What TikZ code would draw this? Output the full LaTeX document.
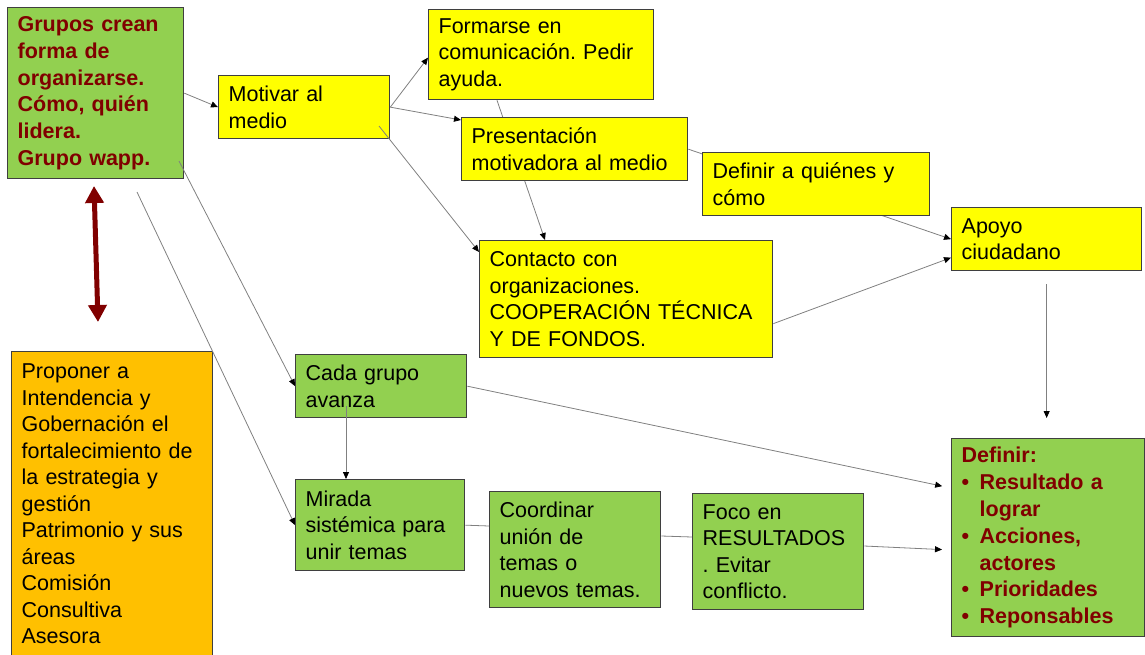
\documentclass[tikz,border=0pt]{standalone}
\usepackage{fontspec}
\setmainfont{Liberation Sans}
\usetikzlibrary{arrows.meta,calc,backgrounds}
\definecolor{gfill}{HTML}{92D050}
\definecolor{yfill}{HTML}{FFFF00}
\definecolor{ofill}{HTML}{FFC000}
\definecolor{dred}{HTML}{800000}
\definecolor{bord}{HTML}{3F3F3F}
\definecolor{lgray}{HTML}{808080}
\newcommand{\wsp}{\spaceskip=1.25\fontdimen2\font\relax}
\begin{document}
\begin{tikzpicture}[x=1pt,y=-1pt,
  box/.style={draw=bord, line width=1.3pt, anchor=north west, inner xsep=10pt, inner ysep=0pt, align=left, font=\fontsize{21.5}{26.5}\selectfont\wsp},
  gbox/.style={box, fill=gfill},
  ybox/.style={box, fill=yfill},
  obox/.style={box, fill=ofill},
  redtext/.style={text=dred, font=\fontsize{21.5}{26.8}\selectfont\bfseries\wsp},
  conn/.style={draw=lgray, line width=0.8pt},
  arr/.style={conn, -{Triangle[length=7pt,width=6pt,color=black]}},
  bigarr/.style={draw=dred, line width=5pt, {Triangle[length=17pt,width=18pt]}-{Triangle[length=17pt,width=18pt]}}
]
\useasboundingbox (0,0) rectangle (1145,654);

% nodes
\node[gbox, redtext, minimum width=176pt, minimum height=171pt, text width=156pt] (g) at (7,7)
  {Grupos~crean\\forma~de\\organizarse.\\Cómo,~quién\\lidera.\\Grupo~wapp.};
\node[ybox, minimum width=171pt, minimum height=63pt, text width=151pt] (m) at (218,75)
  {Motivar~al\\medio};
\node[ybox, minimum width=225pt, minimum height=90pt, text width=205pt] (f) at (428,9)
  {Formarse~en\\comunicación.~Pedir\\ayuda.};
\node[ybox, minimum width=226pt, minimum height=63pt, text width=206pt] (p) at (461,117)
  {Presentación\\motivadora~al~medio};
\node[ybox, minimum width=227pt, minimum height=63pt, text width=207pt] (d) at (702,152)
  {Definir~a~quiénes~y\\cómo};
\node[ybox, minimum width=190pt, minimum height=63pt, text width=170pt] (a) at (951,207)
  {Apoyo\\ciudadano};
\node[ybox, minimum width=293pt, minimum height=117pt, text width=273pt] (c) at (479,240)
  {Contacto~con\\organizaciones.\\COOPERACIÓN~TÉCNICA\\Y~DE~FONDOS.};
\node[gbox, minimum width=171pt, minimum height=63pt, text width=151pt] (k) at (295,354)
  {Cada~grupo\\avanza};
\node[gbox, minimum width=169pt, minimum height=91pt, text width=149pt] (mi) at (295,479)
  {Mirada\\sistémica~para\\unir~temas};
\node[gbox, minimum width=171pt, minimum height=116pt, text width=151pt] (co) at (489,491)
  {Coordinar\\unión~de\\temas~o\\nuevos~temas.};
\node[gbox, minimum width=171pt, minimum height=116pt, text width=151pt] (fo) at (692,493)
  {Foco~en\\RESULTADOS\\.~Evitar\\conflicto.};
\node[gbox, redtext, minimum width=193pt, minimum height=198pt, text width=173pt] (r) at (951,438)
  {Definir:\\
   \makebox[18pt][l]{•}Resultado~a\\
   \hspace*{18pt}lograr\\
   \makebox[18pt][l]{•}Acciones,\\
   \hspace*{18pt}actores\\
   \makebox[18pt][l]{•}Prioridades\\
   \makebox[18pt][l]{•}Reponsables};
\node[obox, minimum width=201pt, minimum height=305pt, text width=181pt] (o) at (11,351)
  {Proponer~a\\Intendencia~y\\Gobernación~el\\fortalecimiento~de\\la~estrategia~y\\gestión\\Patrimonio~y~sus\\áreas\\Comisión\\Consultiva\\Asesora};

\coordinate (s1) at (137,192);
\coordinate (ra) at (94,186);
\coordinate (rb) at (98,322);

% connectors passing behind boxes
\begin{scope}[on background layer]
  \draw[arr] ($(f.south west)+(69,0)$) -- ($(c.north west)+(66,0)$);
  \draw[arr] (p.east) -- (a.west);
\end{scope}

% connectors
\draw[arr] (g.east) -- (m.west);
\draw[arr] (m.east) -- ([yshift=-3pt]f.west);
\draw[arr] (m.east) -- ($(p.north west)+(0,3)$);
\draw[arr] ($(m.north west)+(161,51)$) -- ($(c.north west)+(0,12)$);
\draw[arr] ($(c.east)+(0,24.5)$) -- ($(a.west)+(0,18.5)$);
\draw[arr, shorten <=13pt, shorten >=20pt] (a.south) -- (a.south |- r.north);
\draw[arr, shorten >=9pt] (k.east) -- ($(r.north west)+(0,50)$);
\draw[arr] ($(g.north west)+(172,154)$) -- (k.west);
\draw[arr] (s1) -- (mi.west);
\draw[arr] ($(k.north west)+(51,52)$) -- ($(mi.north west)+(51,0)$);
\draw[conn] (mi.east) -- ($(co.north west)+(0,35)$);
\draw[conn] ($(co.north east)+(0,45)$) -- ($(fo.north west)+(0,44)$);
\draw[arr, shorten >=9pt] ($(fo.north east)+(0,53)$) -- ($(r.north west)+(0,112)$);
\draw[bigarr] (ra) -- (rb);
\end{tikzpicture}
\end{document}
